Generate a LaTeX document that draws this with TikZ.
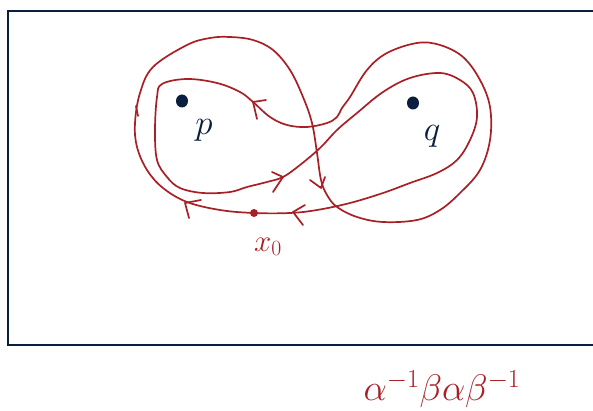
\RequirePackage{fix-cm}
\documentclass[tikz,border=0pt]{standalone}
\definecolor{pathred}{RGB}{168,32,38}
\definecolor{navy}{RGB}{10,30,62}
\begin{document}
\begin{tikzpicture}[x=1pt,y=-1pt,
  loopline/.style={pathred,line width=1.7pt,line cap=round,line join=round},
  chev/.style={pathred,line width=1.7pt,line cap=round,line join=round},
  frame/.style={navy,line width=2pt},
  lbl/.style={inner sep=0pt},
  ]
\useasboundingbox (0,0) rectangle (593,411);
\begin{scope}
\clip (0,0) rectangle (593,411);
\draw[frame] (8,11) rectangle (610,345);
\end{scope}
% the loop
\draw[loopline] plot[smooth cycle, tension=0.6] coordinates {(254,213) (220,210) (187,202) (163,188) (147,170) (137,147) (135,123) (140,93) (153,67) (187,45) (210,38) (230,37) (253,40) (273,50) (290,70) (303,97) (312,123) (317,153) (321,180) (327,195) (337,207) (357,217) (383,222) (417,220) (440,210) (460,193) (480,170) (490,140) (490,107) (480,80) (463,57) (440,45) (417,43) (387,53) (367,70) (350,97) (342,108) (337,117) (327,123) (307,127) (287,125) (270,117) (253,102) (240,92) (217,83) (187,79) (162,84) (157,97) (155,130) (157,160) (167,177) (180,188) (203,193) (230,192) (247,187) (267,182) (283,177) (300,165) (320,148) (337,130) (357,113) (383,92) (410,78) (440,73) (460,80) (473,93) (477,117) (470,140) (457,160) (437,173) (410,183) (383,193) (350,203) (317,210) (290,213)};
% small tick
\draw[chev] (136,106) -- (138,116);
% arrow heads
\draw[chev] (201,200) -- (185,203) -- (189,218);
\draw[chev] (305,205) -- (293,212) -- (303,225);
\draw[chev] (272,172) -- (283,177) -- (273,192);
\draw[chev] (266,100) -- (253,102) -- (257,119);
\draw[chev] (310,180) -- (321,188) -- (325,177);
% points
\fill[navy] (182,101) ellipse (6 and 6.5);
\fill[navy] (413,103) ellipse (6 and 6.5);
\fill[pathred] (254,213) circle (4);
\node[lbl,navy,font=\fontsize{35}{40}\selectfont] (p) at (204,130) {$p$};
\node[lbl,navy,font=\fontsize{35}{40}\selectfont] (q) at (432,136) {$q$};
\node[lbl,pathred,font=\fontsize{31}{36}\selectfont] (x0) at (268,247) {$x_0$};
\node[lbl,pathred,font=\fontsize{37}{42}\selectfont] (w) at (442,389) {$\alpha^{-1}\beta\alpha\beta^{-1}$};
\end{tikzpicture}
\end{document}
